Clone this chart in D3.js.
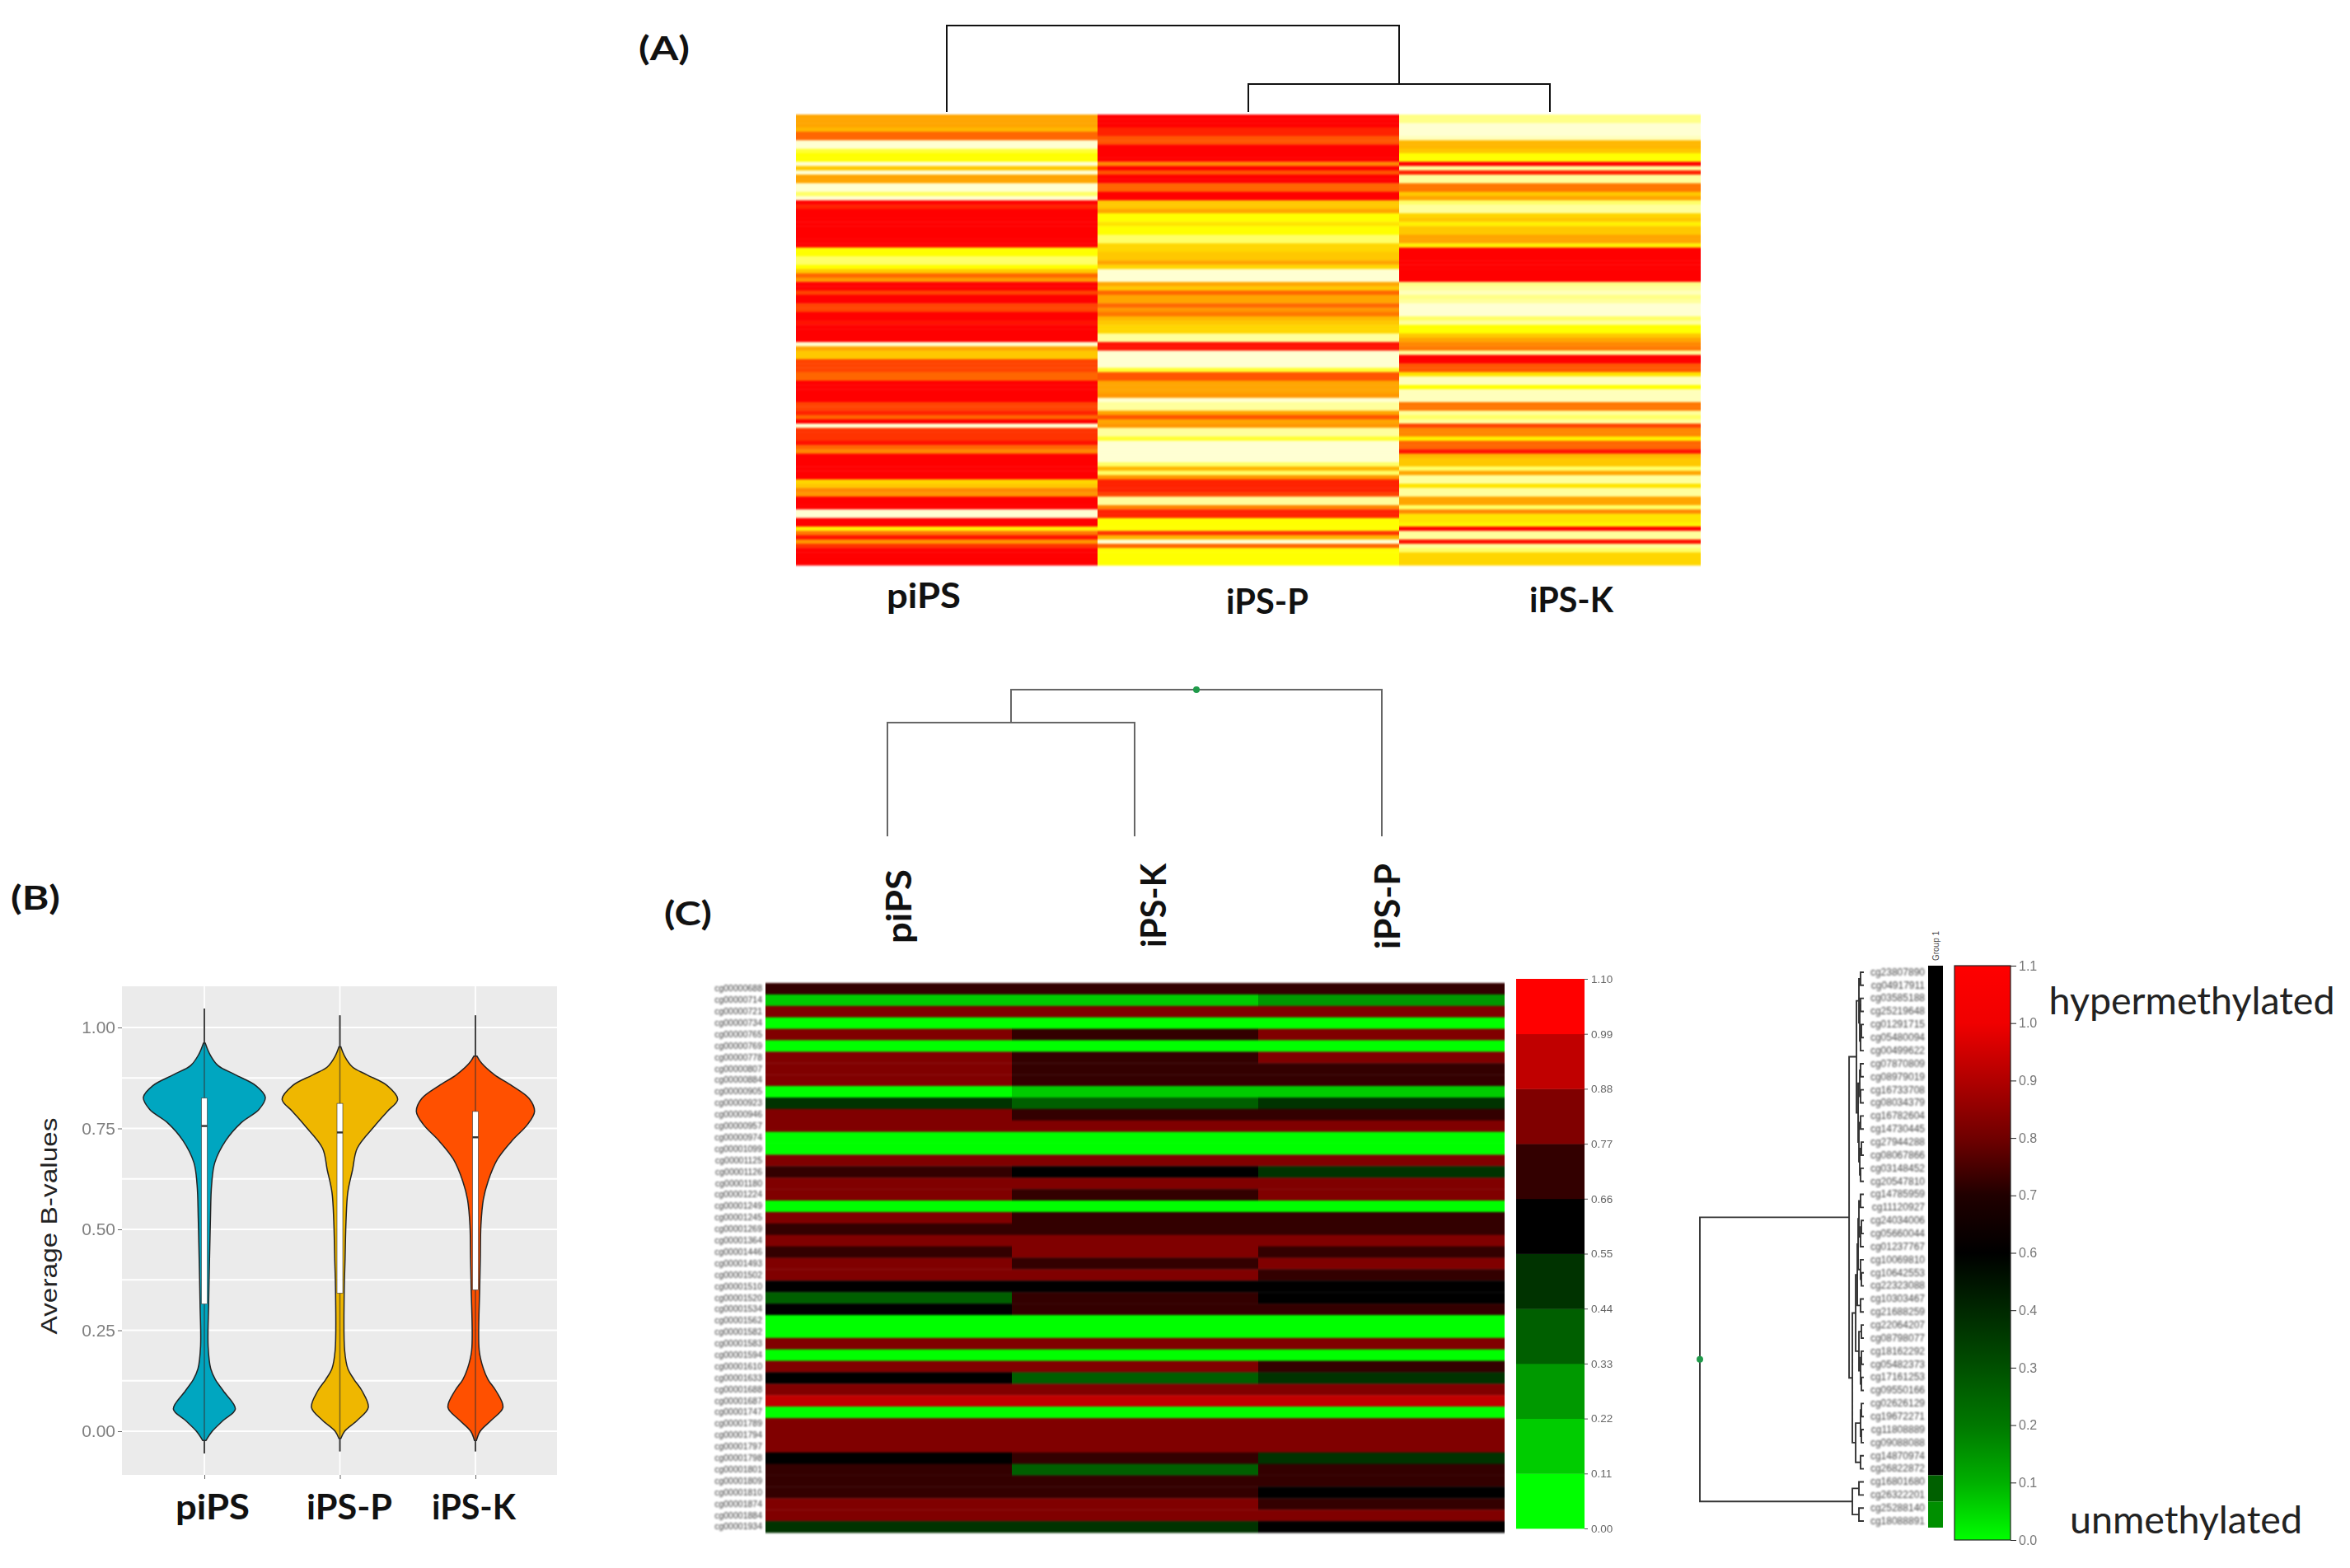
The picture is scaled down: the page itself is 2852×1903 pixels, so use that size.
<!DOCTYPE html>
<html><head><meta charset="utf-8">
<script src="https://cdnjs.cloudflare.com/ajax/libs/d3/7.8.5/d3.min.js"></script>
<style>html,body{margin:0;padding:0;background:#fff}svg{display:block}</style>
</head><body><svg id="chart" width="2852" height="1903"></svg>
<script>
// ---------- Panel A: heat levels (0 = red ... 10 = pale yellow) per probe ----------
const heatColumnsA = ["piPS", "iPS-P", "iPS-K"];
const heatA_piPS = [5,5,5,5.5,3,3,10,10,8.5,8,8,10,6,10,5,5,10,10,9,10,
  0,1,0,0,0,0,0,0,0,0,0,8,8,9,9,8,6,3,4.5,0,0,2,0,0,2,2,
  0,0,0.5,0,0,0,0,10,5,6,6,2,2,2,3,3,0,0,0,0,0,2,2,1,3,0,10,
  1.5,1.5,1.5,0.5,3,4,0,0,0,0,0,0,6.5,6,4,4.5,0,0,0,10,10,0,0,
  7.5,3.5,0.5,4.5,1.5,0,0,0,0];
const heatA_iPSP = [0,0,0,1,1,2.5,2.5,0,0,0,0,4,0,2.5,0,0,3,3,0,0,
  6,6,5,8,8,7,8,8,9,9,6.5,6.5,6,6,5,6.5,10,10,10,5,6,3,5,5,3,4.5,3.5,5.5,6,6.5,6.5,
  9.5,9.5,0.5,0.5,10,10,10,10,8.5,2.5,2.5,5,5,5,4.5,10,9.5,9.5,5,2.5,5,4.5,
  9.5,9.5,8.5,10,10,10,10,10,9,5.5,9,4.5,1,1,1,2,9.5,9.5,4,1,1,8,8,8,1.5,5.5,10,3,8,8,8,8];
const heatA_iPSK = [9.3,9.3,10,10,10,9.8,5.5,5.5,6,8,8,0,9.5,1,9.5,9.5,3.5,3.5,6,5,
  9,9.5,9.5,6.5,6,7.5,6,6,5,5,7.5,0,0,0,0,0,0,0,0,9.3,9.5,9.8,9.3,9.5,10,10,10,9,9.5,8,8,
  6,5,4,3.5,9.5,0,0,2.5,2.5,7,9.8,9.8,8,9.8,9.8,9.8,3.5,3.5,9.5,9,9.5,2,4,4,7.5,3,3,0.5,
  5.5,6,6,9,5,9.5,9.5,7,9.5,9.5,5,5,9,4,7,7,7.5,0,9.5,9.5,0.5,9.5,9,6.5,6.5,6.5];
const heatLevels = [0,2,4,5,6,8,9,10];
const heatStops = ["#ff0000","#ff4400","#ff8800","#ffa500","#ffc800","#ffff00","#ffff66","#ffffd2"];
const treeA = [1, "piPS", [0.324, "iPS-P", "iPS-K"]];

// ---------- Panel B: violins ----------
const violinCats = ["piPS", "iPS-P", "iPS-K"];
const violinColors = ["#00a6c0", "#efb700", "#ff5000"];
const piPSBeta = [.961,.933,.906,.883,.856,.827,.797,.765,.72,.665,.61,.528,.428,.314,.21,.155,.128,.10,.055,.027,0,-.023];
const piPSDens = [.015,.093,.223,.508,.845,1,.896,.611,.352,.171,.119,.1,.085,.07,.062,.104,.181,.311,.508,.311,.130,.026];
const iPSPBeta = [.952,.929,.902,.883,.856,.822,.792,.756,.701,.647,.592,.519,.428,.337,.2,.155,.128,.1,.059,.027,0,-.018];
const iPSPDens = [.016,.078,.207,.44,.777,.948,.777,.57,.285,.207,.13,.1,.085,.07,.078,.13,.233,.363,.466,.285,.078,.016];
const iPSKBeta = [.929,.911,.883,.856,.824,.792,.76,.719,.674,.619,.574,.51,.428,.355,.2,.155,.128,.1,.059,.027,0,-.023];
const iPSKDens = [.026,.104,.311,.596,.881,.969,.855,.596,.363,.207,.13,.09,.08,.07,.062,.13,.207,.337,.451,.259,.078,.016];
const boxQ1 = [.315,.342,.35], boxMedian = [.756,.74,.728], boxQ3 = [.825,.812,.792];
const whiskerLow = [-.055,-.05,-.05], whiskerHigh = [1.047,1.03,1.03];
const violinTicks = [0,.25,.5,.75,1], violinMinor = [.125,.375,.625,.875];

// ---------- Panel C left: stepped heatmap ----------
const probesC = ["cg00000688","cg00000714","cg00000721","cg00000734","cg00000765","cg00000769","cg00000778","cg00000807",
 "cg00000884","cg00000905","cg00000923","cg00000946","cg00000957","cg00000974","cg00001099","cg00001125","cg00001126",
 "cg00001180","cg00001224","cg00001249","cg00001245","cg00001269","cg00001364","cg00001446","cg00001493","cg00001502",
 "cg00001510","cg00001520","cg00001534","cg00001562","cg00001582","cg00001583","cg00001594","cg00001610","cg00001633",
 "cg00001688","cg00001687","cg00001747","cg00001789","cg00001794","cg00001797","cg00001798","cg00001801","cg00001809",
 "cg00001810","cg00001874","cg00001884","cg00001934"];
const columnsC = ["piPS", "iPS-K", "iPS-P"];
const betaC_piPS = [.71,.16,.82,.05,.82,.05,.82,.82,.82,.05,.49,.82,.82,.05,.05,.82,.71,.82,.82,.05,.82,.71,.82,.71,
  .82,.82,.60,.38,.60,.05,.05,.82,.05,.82,.60,.82,.93,.05,.82,.82,.82,.60,.71,.71,.71,.82,.82,.49];
const betaC_iPSK = [.71,.16,.82,.05,.71,.05,.71,.71,.71,.16,.38,.71,.82,.05,.05,.82,.60,.82,.71,.05,.71,.71,.82,.82,
  .71,.82,.60,.71,.71,.05,.05,.82,.05,.82,.38,.82,.93,.05,.82,.82,.82,.71,.38,.71,.71,.82,.82,.49];
const betaC_iPSP = [.71,.27,.82,.05,.82,.05,.82,.71,.71,.16,.49,.71,.82,.05,.05,.82,.49,.82,.82,.05,.71,.71,.82,.71,
  .82,.71,.60,.60,.71,.05,.05,.82,.05,.71,.49,.82,.93,.05,.82,.82,.82,.49,.71,.71,.60,.71,.82,.60];
const stepColors = ["#00ff00","#00cc00","#009900","#005f00","#003300","#000000","#330000","#800000","#c00000","#ff0000"];
const stepTicks = [0,.11,.22,.33,.44,.55,.66,.77,.88,.99,1.10];
const treeC = [1, [0.775, "piPS", "iPS-K"], "iPS-P"];

// ---------- Panel C right: clustered probes ----------
const probesR = ["cg23807890","cg04917911","cg03585188","cg25219648","cg01291715","cg05480094","cg00499622","cg07870809",
 "cg08979019","cg16733708","cg08034379","cg16782604","cg14730445","cg27944288","cg08067866","cg03148452","cg20547810",
 "cg14785959","cg11120927","cg24034006","cg05660044","cg01237767","cg10069810","cg10642553","cg22323088","cg10303467",
 "cg21688259","cg22064207","cg08798077","cg18162292","cg05482373","cg17161253","cg09550166","cg02626129","cg19672271",
 "cg11808889","cg09088088","cg14870974","cg26822872","cg16801680","cg26322201","cg25288140","cg18088891"];
const groupCounts = [39, 2, 2];
const groupValues = ["#000000", "#006000", "#008f00"];
const gradientLabels = ["0.0","0.1","0.2","0.3","0.4","0.6","0.7","0.8","0.9","1.0","1.1"];
const gradientColors = ["#00ff00","#00b000","#007800","#005000","#002800","#000000","#200000","#700000","#b00000","#f00000","#ff0000"];
const treeR = [1,
 [.09,
  [.045,[.03,[.02,0,1],[.025,[.02,2,3],[.02,[.015,4,5],6]]],
        [.035,[.025,[.02,7,8],[.02,9,10]],[.03,[.02,11,12],[.025,[.015,13,14],[.02,15,16]]]]],
  [.07,[.05,[.04,[.035,[.03,[.02,17,18],[.02,[.015,19,20],21]],[.02,22,[.015,23,24]]],[.02,25,26]],
            [.03,[.015,27,28],[.02,[.015,29,30],[.015,31,32]]]],
       [.05,[.02,[.015,33,34],[.015,35,36]],[.02,37,38]]]],
 [.07,[.03,39,40],[.03,41,42]]];

// ---------- Drawing ----------
const svg = d3.select("#chart");
const defs = svg.append("defs");
function blur(id, sx, sy){
  defs.append("filter").attr("id",id).attr("x","-5%").attr("y","-5%").attr("width","110%").attr("height","110%")
    .attr("color-interpolation-filters","sRGB")
    .append("feGaussianBlur").attr("stdDeviation",sx+" "+sy);
}
blur("bA",.5,1.2); blur("bC",.6,1.3); blur("bV",.7,.7); blur("bT",.45,.45); blur("bTiny",.8,.8); blur("bS",.5,.5);

function label(txt, x, y, size, len, opts){
  opts = opts || {};
  const t = svg.append("text").attr("font-family", opts.family || "Lato, 'Open Sans', sans-serif")
    .attr("font-weight", opts.weight || 700).attr("font-size", size).attr("fill", opts.fill || "#111")
    .attr("text-anchor","middle").attr("dominant-baseline","central")
    .attr("transform", `translate(${x},${y})` + (opts.rotate ? ` rotate(${opts.rotate})` : ""))
    .text(txt);
  if (len) t.attr("textLength", len).attr("lengthAdjust","spacingAndGlyphs");
  return t;
}
function dendro(tree, posOf, hScale, vertical, g, stroke, width){
  const path = d3.path();
  function walk(n){
    if (!Array.isArray(n)) return {p: posOf(n), h: hScale(0)};
    const a = walk(n[1]), b = walk(n[2]), h = hScale(n[0]), p = (a.p + b.p) / 2;
    const pt = (u, v) => vertical ? [u, v] : [v, u];
    path.moveTo(...pt(a.p, a.h)); path.lineTo(...pt(a.p, h)); path.lineTo(...pt(b.p, h)); path.lineTo(...pt(b.p, b.h));
    return {p, h};
  }
  const root = walk(tree);
  g.append("path").attr("d", path.toString()).attr("fill","none").attr("stroke",stroke).attr("stroke-width",width);
  return root;
}

// Panel A
const gA = svg.append("g").attr("filter","url(#bA)");
const xA = d3.scaleBand().domain(heatColumnsA).range([966,2064]);
const yA = d3.scaleBand().domain(d3.range(heatA_piPS.length)).range([139,686]);
const colA = d3.scaleLinear().domain(heatLevels).range(heatStops);
[heatA_piPS, heatA_iPSP, heatA_iPSK].forEach((vals,c)=>{
  gA.selectAll(null).data(vals).join("rect")
    .attr("x", xA(heatColumnsA[c])).attr("width", xA.bandwidth())
    .attr("y",(d,i)=>yA(i)).attr("height", yA.bandwidth()+.4).attr("fill",d=>colA(d));
});
dendro(treeA, n=>xA(n)+xA.bandwidth()/2, d3.scaleLinear().domain([0,1]).range([136,31]), true, svg.append("g"), "#111", 2);
label("(A)", 806, 58, 40, 62);
label("piPS", 1121, 722, 42, 90);
label("iPS-P", 1538, 729, 42, 100);
label("iPS-K", 1907, 727, 42, 102);

// Panel B
const xV = d3.scalePoint().domain(violinCats).range([248,577]);
const yV = d3.scaleLinear().domain([0,1]).range([1737,1247]);
const wV = d3.scaleLinear().domain([0,1]).range([0,74]);
const gB = svg.append("g").attr("filter","url(#bV)");
gB.append("rect").attr("x",148).attr("y",1197).attr("width",528).attr("height",593).attr("fill","#ebebeb");
gB.selectAll(null).data(violinMinor.concat(violinTicks)).join("line")
  .attr("x1",148).attr("x2",676).attr("y1",d=>yV(d)).attr("y2",d=>yV(d)).attr("stroke","#fff").attr("stroke-width",1.8);
gB.selectAll(null).data(violinCats).join("line")
  .attr("x1",d=>xV(d)).attr("x2",d=>xV(d)).attr("y1",1197).attr("y2",1790).attr("stroke","#fff").attr("stroke-width",1.8);
[[piPSBeta,piPSDens],[iPSPBeta,iPSPDens],[iPSKBeta,iPSKDens]].forEach(([b,d],i)=>{
  const cx = xV(violinCats[i]);
  const pts = b.map((v,j)=>[v,d[j]]);
  gB.append("line").attr("x1",cx).attr("x2",cx).attr("y1",yV(whiskerHigh[i])).attr("y2",yV(whiskerLow[i]))
    .attr("stroke","#555").attr("stroke-width",2);
  const area = d3.area().curve(d3.curveCatmullRom).y(p=>yV(p[0])).x0(p=>cx-wV(p[1])).x1(p=>cx+wV(p[1]));
  gB.append("path").attr("d",area(pts)).attr("fill",violinColors[i]).attr("stroke","#222").attr("stroke-width",1.5);
  gB.append("line").attr("x1",cx).attr("x2",cx).attr("y1",yV(whiskerHigh[i])).attr("y2",yV(whiskerLow[i]))
    .attr("stroke","#333").attr("stroke-opacity",.65).attr("stroke-width",1.5);
  gB.append("rect").attr("x",cx-3.5).attr("width",7).attr("y",yV(boxQ3[i])).attr("height",yV(boxQ1[i])-yV(boxQ3[i]))
    .attr("fill","#fff").attr("stroke","#333").attr("stroke-width",.6);
  gB.append("line").attr("x1",cx-3.5).attr("x2",cx+3.5).attr("y1",yV(boxMedian[i])).attr("y2",yV(boxMedian[i]))
    .attr("stroke","#333").attr("stroke-width",2.4);
});
const axV = svg.append("g").attr("transform","translate(148,0)").attr("filter","url(#bT)")
  .call(d3.axisLeft(yV).tickValues(violinTicks).tickFormat(d3.format(".2f")).tickSize(5));
axV.select(".domain").remove();
axV.selectAll("line").attr("stroke","#666");
axV.selectAll("text").attr("font-family","'Liberation Sans',Arial,sans-serif").attr("font-size",21).attr("fill","#7f7f7f");
const axVx = svg.append("g").attr("transform","translate(0,1790)").call(d3.axisBottom(xV).tickSize(5).tickFormat(""));
axVx.select(".domain").remove(); axVx.selectAll("line").attr("stroke","#666");
label("Average B-values", 59, 1488, 28, 263, {family:"'Liberation Sans',Arial,sans-serif", weight:400, rotate:-90, fill:"#222"});
label("(B)", 43, 1089, 40, 60);
label("piPS", 258, 1828, 42, 90);
label("iPS-P", 424, 1828, 42, 104);
label("iPS-K", 575, 1828, 42, 102);

// Panel C left
const rowsC = d3.scaleBand().domain(probesC).range([1193,1860]);
const colsC = d3.scaleBand().domain(columnsC).range([929,1826]);
const colC = d3.scaleQuantize().domain([0,1.1]).range(stepColors);
const gC = svg.append("g").attr("filter","url(#bC)");
[betaC_piPS, betaC_iPSK, betaC_iPSP].forEach((vals,c)=>{
  gC.selectAll(null).data(vals).join("rect")
    .attr("x", colsC(columnsC[c])).attr("width", colsC.bandwidth())
    .attr("y",(d,i)=>rowsC(probesC[i])).attr("height", rowsC.bandwidth()+.4).attr("fill",d=>colC(d));
});
const axC = svg.append("g").attr("transform","translate(927,0)").attr("filter","url(#bTiny)")
  .call(d3.axisLeft(rowsC).tickSize(0).tickPadding(2));
axC.select(".domain").remove();
axC.selectAll("text").attr("font-family","'Liberation Sans',Arial,sans-serif").attr("font-size",10.5).attr("fill","#333");
const leafC = d3.scalePoint().domain(columnsC).range([1077,1677]);
const rootC = dendro(treeC, n=>leafC(n), d3.scaleLinear().domain([0,1]).range([1015,837]), true, svg.append("g"), "#666", 2);
svg.append("circle").attr("cx",rootC.p).attr("cy",rootC.h).attr("r",4).attr("fill","#1f9a4a");
label("piPS", 1090, 1100, 42, 90, {rotate:-90});
label("iPS-K", 1399, 1099, 42, 102, {rotate:-90});
label("iPS-P", 1683, 1100, 42, 104, {rotate:-90});
label("(C)", 835, 1108, 40, 58);

// Stepped colour bar
const barC = d3.scaleLinear().domain([0,1.1]).range([1855,1188]);
svg.append("g").attr("filter","url(#bS)").selectAll(null).data(stepColors).join("rect")
  .attr("x",1840).attr("width",83).attr("y",(d,i)=>barC(stepTicks[i+1])).attr("height",(d,i)=>barC(stepTicks[i])-barC(stepTicks[i+1])+.4)
  .attr("fill",d=>d);
const axBar = svg.append("g").attr("transform","translate(1923,0)").attr("filter","url(#bT)")
  .call(d3.axisRight(barC).tickValues(stepTicks).tickFormat(d3.format(".2f")).tickSize(4).tickPadding(4));
axBar.select(".domain").remove();
axBar.selectAll("line").attr("stroke","#555");
axBar.selectAll("text").attr("font-family","'Liberation Sans',Arial,sans-serif").attr("font-size",13.5).attr("fill","#666");

// Panel C right
const rowsR = d3.scaleBand().domain(d3.range(probesR.length)).range([1172,1854]);
const treeX = d3.scaleLinear().domain([0,1]).range([2262,2063]);
const rootR = dendro(treeR, n=>rowsR(n)+rowsR.bandwidth()/2, treeX, false, svg.append("g"), "#333", 1.9);
svg.append("circle").attr("cx",rootR.h).attr("cy",rootR.p).attr("r",4).attr("fill","#1f9a4a");
const axR = svg.append("g").attr("transform","translate(2336,0)").attr("filter","url(#bTiny)")
  .call(d3.axisLeft(d3.scaleBand().domain(probesR).range([1172,1854])).tickSize(0).tickPadding(0));
axR.select(".domain").remove();
axR.selectAll("text").attr("font-family","'Liberation Sans',Arial,sans-serif").attr("font-size",12).attr("fill","#444");
let cum = 0;
const gGroup = svg.append("g").attr("filter","url(#bT)");
groupCounts.forEach((n,i)=>{
  gGroup.append("rect").attr("x",2340).attr("width",18).attr("y",rowsR(cum)).attr("height",n*rowsR.step()).attr("fill",groupValues[i]);
  cum += n;
});
label("Group 1", 2349, 1148, 11, 36, {family:"'Liberation Sans',Arial,sans-serif", weight:400, rotate:-90, fill:"#444"});

const grad = defs.append("linearGradient").attr("id","methGrad").attr("x1",0).attr("y1",1).attr("x2",0).attr("y2",0);
gradientColors.forEach((c,i)=>grad.append("stop").attr("offset",i/(gradientColors.length-1)).attr("stop-color",c));
const barR = d3.scalePoint().domain(gradientLabels).range([1869,1172]);
svg.append("rect").attr("x",2372).attr("y",1172).attr("width",68).attr("height",697).attr("fill","url(#methGrad)")
  .attr("stroke","#222").attr("stroke-width",1.2);
const axBarR = svg.append("g").attr("transform","translate(2440,0)").attr("filter","url(#bT)")
  .call(d3.axisRight(barR).tickSize(7).tickPadding(3));
axBarR.select(".domain").remove();
axBarR.selectAll("line").attr("stroke","#222");
axBarR.selectAll("text").attr("font-family","'Liberation Sans',Arial,sans-serif").attr("font-size",16).attr("fill","#777");
label("hypermethylated", 2660, 1213, 46, 347, {weight:400, fill:"#222"});
label("unmethylated", 2653, 1843, 46, 282, {weight:400, fill:"#222"});
</script></body></html>
